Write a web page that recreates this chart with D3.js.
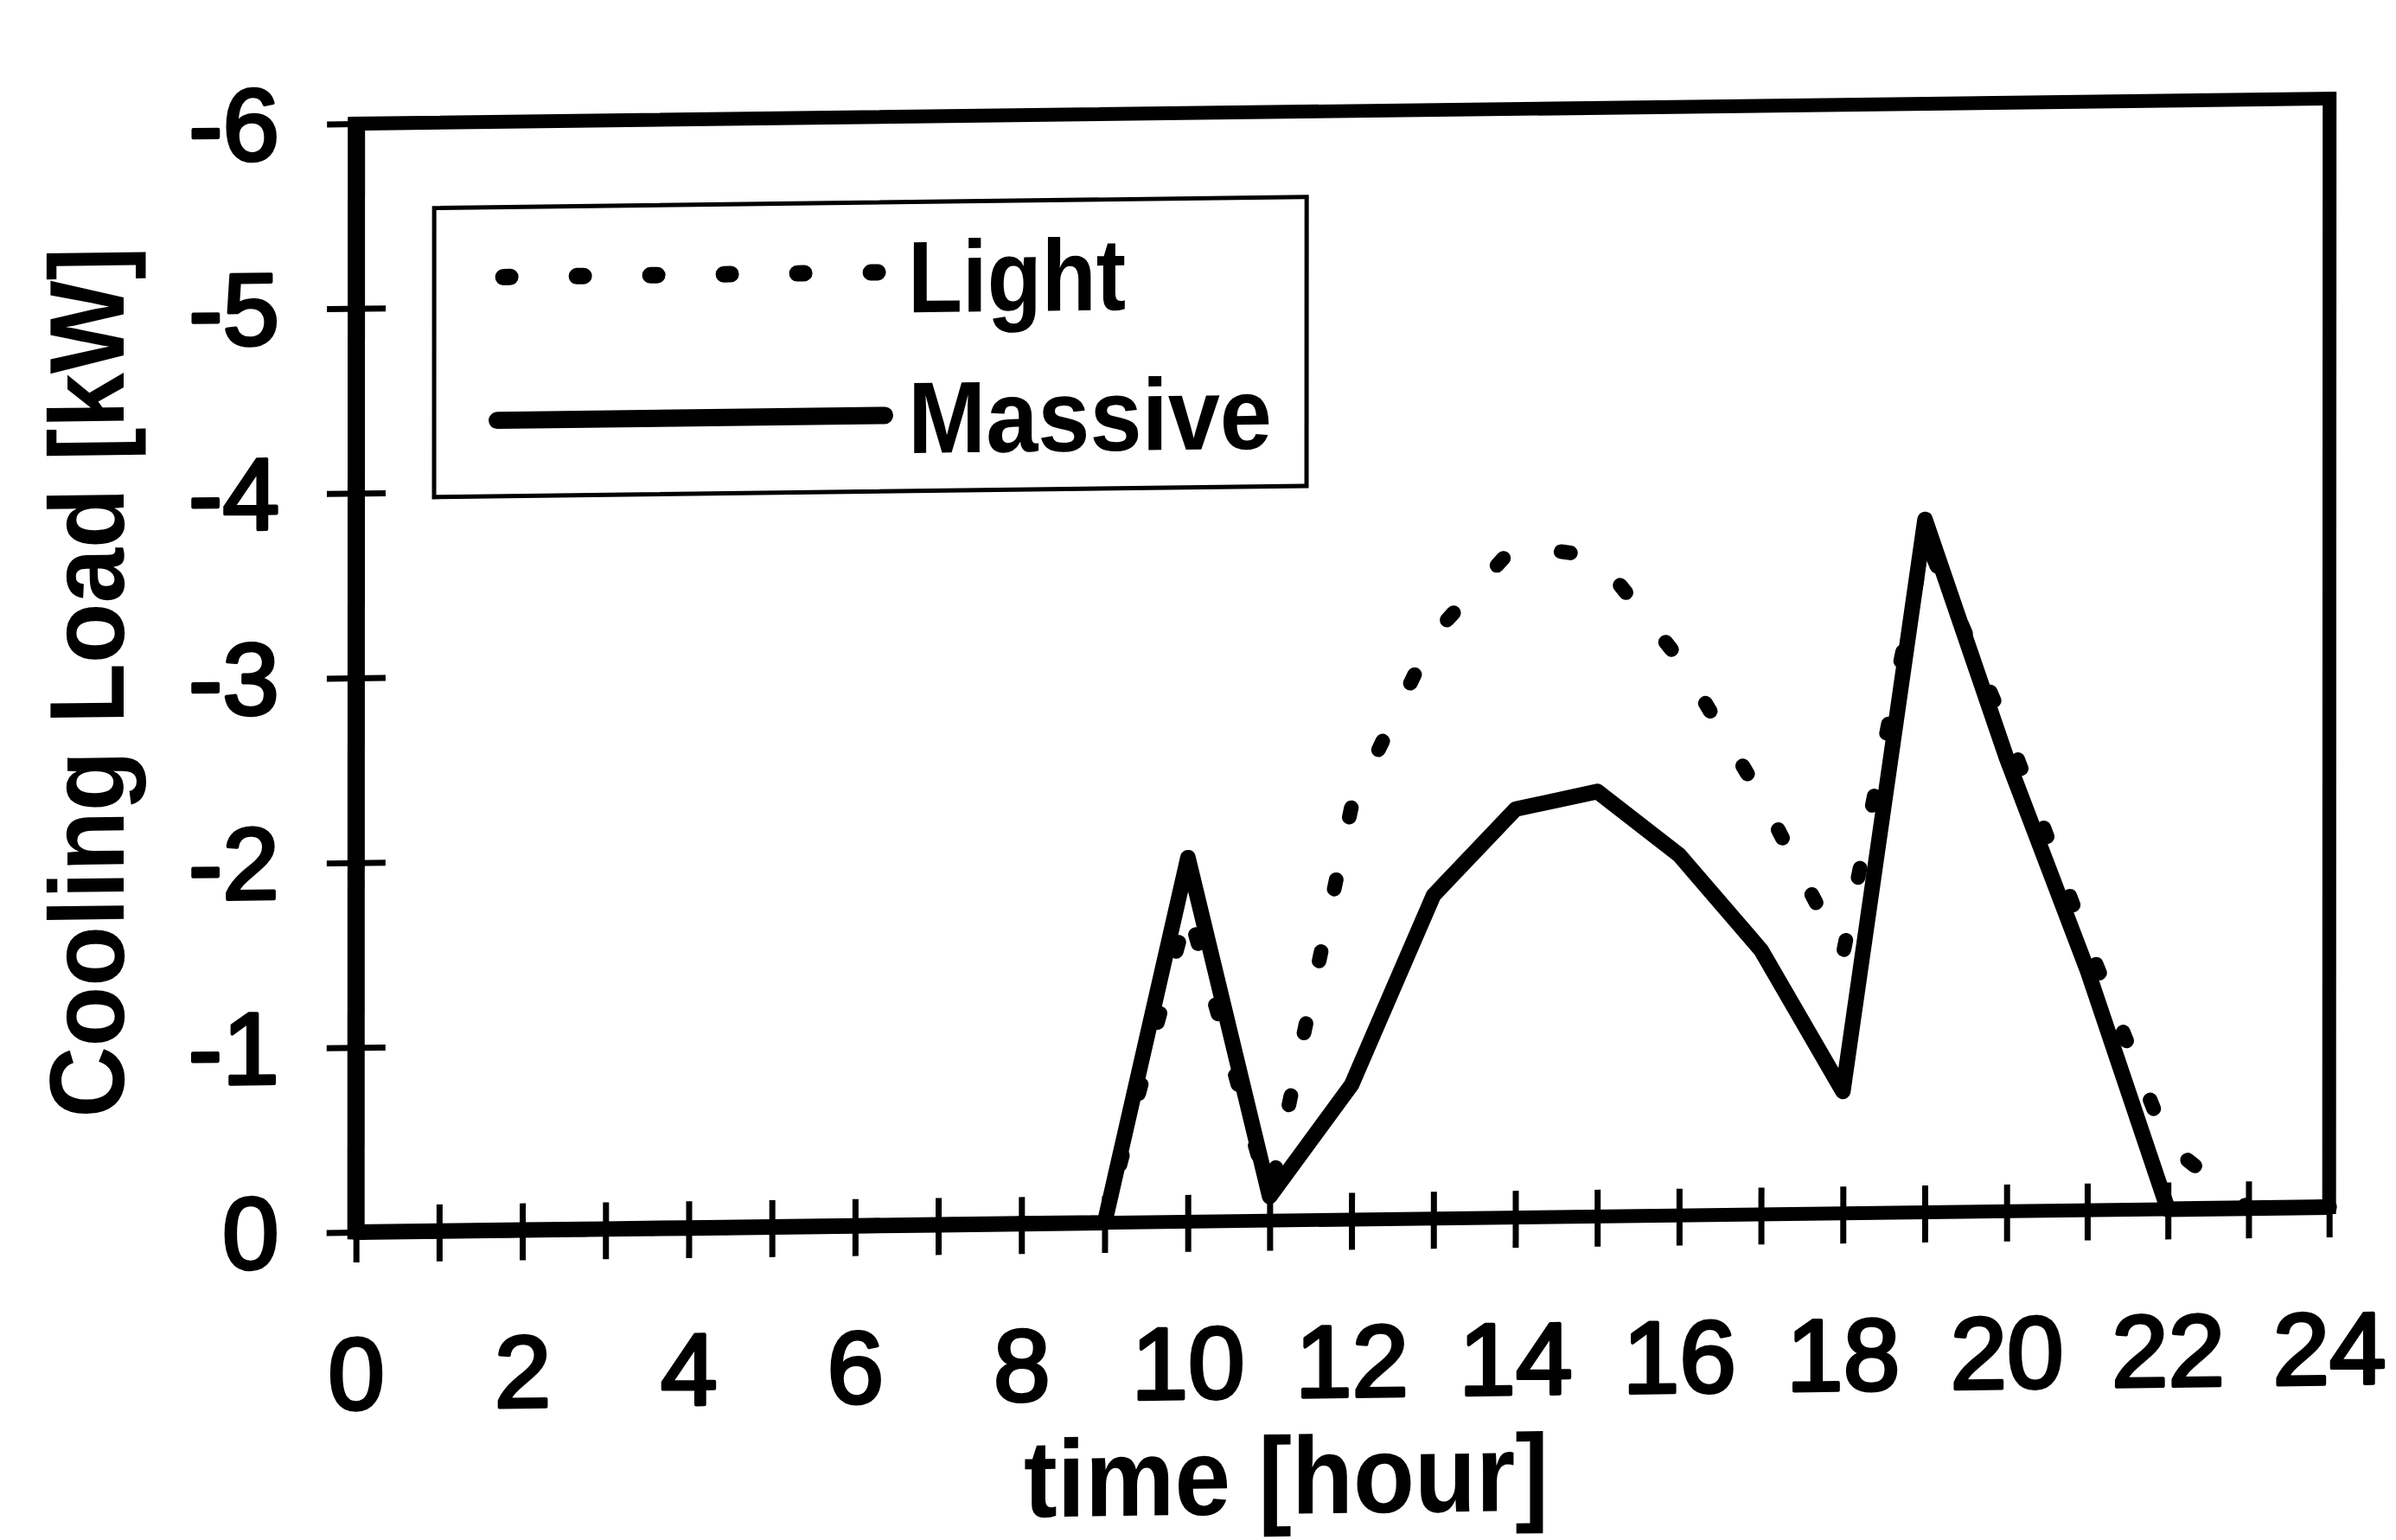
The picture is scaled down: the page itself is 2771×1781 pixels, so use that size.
<!DOCTYPE html>
<html>
<head>
<meta charset="utf-8">
<script src="https://cdn.jsdelivr.net/npm/d3@7"></script>
<style>
  html, body { margin: 0; padding: 0; background: #fff; }
  svg { display: block; }
  text { font-family: "Liberation Sans", Arial, Helvetica, sans-serif; fill: #000; }
</style>
</head>
<body>
<svg id="chart" width="2771" height="1781"></svg>
<script>
// Hourly cooling load of the room for a light and a massive construction (kW, cooling is negative)
const hours = d3.range(0, 25);
const lightLoad   = [0, 0, 0, 0, 0, 0, 0, 0, 0, 0, -1.70, -0.13, -2.24, -3.16, -3.64, -3.57, -3.01, -2.26, -1.40, -3.65, -2.60, -1.45, -0.35, 0, 0];
const massiveLoad = [0, 0, 0, 0, 0, 0, 0, 0, 0, 0, -1.97, -0.13, -0.73, -1.75, -2.21, -2.30, -1.95, -1.43, -0.66, -3.75, -2.45, -1.30, 0, 0, 0];
const seriesNames = ["Light", "Massive"];
const xTickValues = d3.range(0, 25);
const xTickLabels = [0, 2, 4, 6, 8, 10, 12, 14, 16, 18, 20, 22, 24];
const yTickValues = [0, -1, -2, -3, -4, -5, -6];
const xTitle = "time [hour]";
const yTitle = "Cooling Load [kW]";

const W = 2282, H = 1285;
const svg = d3.select("#chart");

// the printed sheet sits slightly askew
const plot = svg.append("g")
  .attr("transform", "matrix(1,-0.0127,-0.0004,0.9977,412.2,143)");

// hour positions along the time axis
const x = d3.scaleLinear().domain([0, 10, 20, 24]).range([0, 962, 1909, W]);
// load axis: zero at the bottom, -6 kW at the top
const y = d3.scaleLinear().domain([0, -6]).range([H, 0]);

// plot frame
plot.append("rect")
  .attr("x", 0).attr("y", 0).attr("width", W).attr("height", H)
  .attr("fill", "none").attr("stroke", "#000").attr("stroke-width", 16);
plot.append("line")
  .attr("x1", 0).attr("x2", 0).attr("y1", -8).attr("y2", H + 8)
  .attr("stroke", "#000").attr("stroke-width", 20);

// x axis: a tick every hour, labels every second hour
const xAxis = d3.axisBottom(x)
  .tickValues(xTickValues)
  .tickSize(35)
  .tickFormat(d => xTickLabels.includes(d) ? String(d) : "");
const gx = plot.append("g").attr("transform", `translate(0,${H})`).call(xAxis);
gx.attr("font-size", null).attr("font-family", null);
gx.select(".domain").remove();
gx.selectAll(".tick line").attr("y1", -31).attr("stroke", "#000").attr("stroke-width", 7);
gx.selectAll(".tick text")
  .attr("y", 205).attr("dy", null)
  .attr("font-size", 118)
  .attr("stroke", "#000").attr("stroke-width", 4).attr("stroke-linejoin", "round");

// y axis
const yAxis = d3.axisLeft(y)
  .tickValues(yTickValues)
  .tickSize(34)
  .tickFormat(d => d === 0 ? "0" : "-" + Math.abs(d));
const gy = plot.append("g").call(yAxis);
gy.attr("font-size", null).attr("font-family", null);
gy.select(".domain").remove();
gy.selectAll(".tick line").attr("x1", 34).attr("stroke", "#000").attr("stroke-width", 7);
gy.selectAll(".tick text")
  .attr("x", -89).attr("dy", null).attr("y", 40)
  .attr("text-anchor", "end")
  .attr("font-size", 118)
  .attr("stroke", "#000").attr("stroke-width", 4).attr("stroke-linejoin", "round");

// series
const line = d3.line()
  .x((d, i) => x(hours[i]))
  .y(d => y(d));

plot.append("path")
  .datum(lightLoad)
  .attr("d", line)
  .attr("fill", "none").attr("stroke", "#000")
  .attr("stroke-width", 17)
  .attr("stroke-dasharray", "11 74")
  .attr("stroke-linecap", "round").attr("stroke-linejoin", "round");

plot.append("path")
  .datum(massiveLoad)
  .attr("d", line)
  .attr("fill", "none").attr("stroke", "#000")
  .attr("stroke-width", 18)
  .attr("stroke-linecap", "round").attr("stroke-linejoin", "round");

// axis titles
plot.append("text")
  .attr("x", 1076).attr("y", 1625)
  .attr("text-anchor", "middle")
  .attr("font-size", 127).attr("font-weight", "bold")
  .attr("textLength", 607).attr("lengthAdjust", "spacingAndGlyphs")
  .text(xTitle);

plot.append("text")
  .attr("transform", "translate(-269,644) rotate(-90)")
  .attr("text-anchor", "middle")
  .attr("font-size", 123).attr("font-weight", "bold")
  .attr("textLength", 1009).attr("lengthAdjust", "spacingAndGlyphs")
  .text(yTitle);

// legend
const legend = plot.append("g");
legend.append("rect")
  .attr("x", 90).attr("y", 99).attr("width", 1009).attr("height", 335)
  .attr("fill", "#fff").attr("stroke", "#000").attr("stroke-width", 5);

const legendRows = [
  { name: seriesNames[0], lineY: 180, textY: 227, textLen: 252, dash: "8 77", width: 19, x1: 170, x2: 605 },
  { name: seriesNames[1], lineY: 346, textY: 390, textLen: 421, dash: null, width: 20, x1: 163, x2: 611 }
];
legendRows.forEach(r => {
  legend.append("line")
    .attr("x1", r.x1).attr("x2", r.x2).attr("y1", r.lineY).attr("y2", r.lineY)
    .attr("stroke", "#000").attr("stroke-width", r.width)
    .attr("stroke-linecap", "round")
    .attr("stroke-dasharray", r.dash);
  legend.append("text")
    .attr("x", 638).attr("y", r.textY)
    .attr("font-size", 118).attr("font-weight", "bold")
    .attr("textLength", r.textLen).attr("lengthAdjust", "spacingAndGlyphs")
    .text(r.name);
});
</script>
</body>
</html>
